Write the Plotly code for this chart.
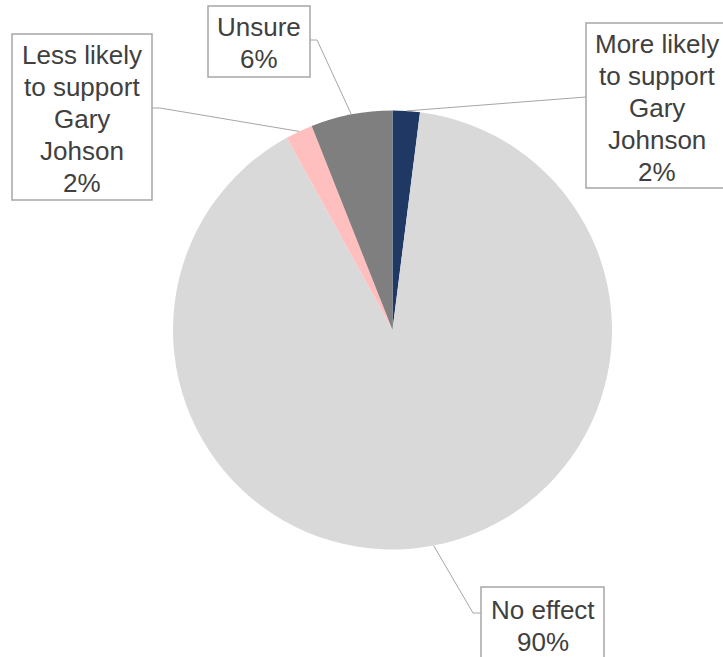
import math
import plotly.graph_objects as go

# Data
categories = ["More likely to support Gary Johnson", "No effect",
              "Less likely to support Gary Johson", "Unsure"]
label_lines = [["More likely", "to support", "Gary", "Johnson"],
               ["No effect"],
               ["Less likely", "to support", "Gary", "Johson"],
               ["Unsure"]]
values = [2, 90, 2, 6]
colors = ["#1F3864", "#D9D9D9", "#FFBFBF", "#7F7F7F"]

W, H = 723, 657
CX, CY, R = 392.5, 330.0, 219.5

def px(x):
    return x / W

def py(y):
    return 1 - y / H

fig = go.Figure(go.Pie(
    labels=categories, values=values, sort=False, direction="clockwise",
    rotation=0, marker=dict(colors=colors, line=dict(width=0)),
    textinfo="none", hoverinfo="label+percent", showlegend=False,
    domain=dict(x=[px(CX - R), px(CX + R)], y=[py(CY + R), py(CY - R)]),
))

# Label box layout (pixels): box rect, elbow point
boxes = [
    dict(x0=586, x1=730, y0=23, y1=188, elbow=(586, 97)),
    dict(x0=481, x1=604, y0=587, y1=690, elbow=(473, 613), end=(481, 613)),
    dict(x0=12, x1=152, y0=34, y1=200, elbow=(160, 108), end=(152, 108)),
    dict(x0=208, x1=310, y0=6, y1=77, elbow=(317, 40), end=(310, 40)),
]

total = sum(values)
cum = 0
shapes = []
annotations = []
line_h = 32
font = dict(family="Liberation Sans, Arial, sans-serif", size=26, color="#404040")
for i, v in enumerate(values):
    mid = (cum + v / 2) / total * 2 * math.pi
    cum += v
    ax = CX + R * math.sin(mid)
    ay = CY - R * math.cos(mid)
    b = boxes[i]
    ex, ey = b["elbow"]
    shapes.append(dict(type="line", xref="paper", yref="paper",
                       x0=px(ax), y0=py(ay), x1=px(ex), y1=py(ey),
                       line=dict(color="#A6A6A6", width=1)))
    if "end" in b:
        fx, fy = b["end"]
        shapes.append(dict(type="line", xref="paper", yref="paper",
                           x0=px(ex), y0=py(ey), x1=px(fx), y1=py(fy),
                           line=dict(color="#A6A6A6", width=1)))
    shapes.append(dict(type="rect", xref="paper", yref="paper",
                       x0=px(b["x0"]), x1=px(b["x1"]), y0=py(b["y1"]), y1=py(b["y0"]),
                       line=dict(color="#A6A6A6", width=1.5), fillcolor="rgba(0,0,0,0)"))
    lines = label_lines[i] + [f"{round(v / total * 100)}%"]
    top = b["y0"] + 5
    if i == 1:
        top = b["y0"] + 7
    xc = (b["x0"] + b["x1"]) / 2
    if i == 0:
        xc = 657
    for k, t in enumerate(lines):
        yc = top + line_h * k + line_h / 2
        annotations.append(dict(text=t, x=px(xc), y=py(yc), xref="paper", yref="paper",
                                xanchor="center", yanchor="middle", showarrow=False,
                                font=font))

fig.update_layout(width=W, height=H, margin=dict(l=0, r=0, t=0, b=0),
                  paper_bgcolor="white", plot_bgcolor="white",
                  shapes=shapes, annotations=annotations)
fig.write_html("out.html", config={"displayModeBar": False},
               post_script="document.body.style.margin='0';document.body.style.overflow='hidden';")
